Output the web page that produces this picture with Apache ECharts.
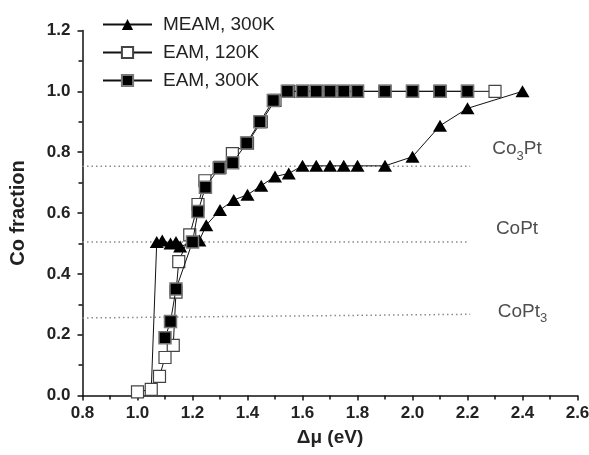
<!DOCTYPE html>
<html>
<head>
<meta charset="utf-8">
<script src="https://cdn.jsdelivr.net/npm/echarts@6/dist/echarts.min.js"></script>
<style>html,body{margin:0;padding:0;background:#fff;}#c{width:589px;height:455px;}</style>
</head>
<body>
<div id="c"></div>
<script>
// Data
const meam300 = [[1.0,0.012],[1.05,0.02],[1.07,0.505],[1.09,0.51],[1.12,0.5],[1.14,0.505],[1.155,0.49],[1.225,0.51],[1.25,0.56],[1.3,0.61],[1.35,0.643],[1.4,0.66],[1.45,0.69],[1.5,0.72],[1.55,0.73],[1.6,0.755],[1.65,0.755],[1.7,0.755],[1.75,0.755],[1.8,0.755],[1.9,0.755],[2.0,0.785],[2.1,0.887],[2.2,0.944],[2.4,1.0]];
const eam120 = [[1.0,0.012],[1.05,0.02],[1.08,0.063],[1.1,0.125],[1.13,0.165],[1.14,0.34],[1.15,0.44],[1.19,0.528],[1.22,0.628],[1.245,0.706],[1.3,0.75],[1.345,0.795],[1.4,0.83],[1.45,0.9],[1.5,0.97],[1.55,1.0],[1.6,1.0],[1.65,1.0],[1.7,1.0],[1.75,1.0],[1.8,1.0],[1.9,1.0],[2.0,1.0],[2.1,1.0],[2.2,1.0],[2.3,1.0]];
const eam300 = [[1.1,0.19],[1.12,0.243],[1.14,0.35],[1.2,0.505],[1.22,0.605],[1.247,0.685],[1.297,0.748],[1.346,0.765],[1.397,0.83],[1.445,0.9],[1.494,0.97],[1.545,1.0],[1.6,1.0],[1.65,1.0],[1.7,1.0],[1.75,1.0],[1.8,1.0],[1.9,1.0],[2.0,1.0],[2.1,1.0],[2.2,1.0]];
const refCo3Pt = [[0.8,0.754],[2.21,0.754]];
const refCoPt = [[0.8,0.505],[2.2,0.505]];
const refCoPt3 = [[0.8,0.255],[2.21,0.267]];
const phaseLabels = [[2.38,0.81,'{a|Co}{s|3}{a|Pt}'],[2.38,0.548,'{a|CoPt}'],[2.4,0.275,'{a|CoPt}{s|3}']];
const seriesNames = ['MEAM, 300K','EAM, 120K','EAM, 300K'];

const chart = echarts.init(document.getElementById('c'), null, {renderer:'canvas'});
const font = '"Liberation Sans", Arial, sans-serif';
const refLine = (d) => ({type:'line', data:d, symbol:'none', silent:true, z:1,
  lineStyle:{color:'#8a8a8a', width:1.5, type:[1.5,3]}});
chart.setOption({
  animation:false,
  backgroundColor:'#fff',
  grid:{left:82.5, right:11.5, top:30.5, bottom:59.5, outerBoundsMode:'none', containLabel:false},
  legend:{
    data:seriesNames, orient:'vertical', left:97, top:10, itemWidth:49, itemHeight:14, itemGap:9,
    textStyle:{fontFamily:font, fontSize:19, color:'#222', padding:[0,0,0,6]}
  },
  xAxis:{
    type:'value', min:0.8, max:2.6, interval:0.2,
    name:'Δμ (eV)', nameLocation:'middle', nameGap:33,
    nameTextStyle:{fontFamily:font, fontSize:19, fontWeight:'bold', color:'#222'},
    axisLine:{onZero:false, lineStyle:{color:'#111', width:1.5}},
    axisTick:{length:5, inside:false, lineStyle:{color:'#111', width:1.5}},
    minorTick:{show:true, splitNumber:2, length:4, lineStyle:{color:'#111', width:1.5}},
    splitLine:{show:false},
    axisLabel:{fontFamily:font, fontSize:17, fontWeight:'bold', color:'#222', margin:9, formatter:v=>v.toFixed(1)}
  },
  yAxis:{
    type:'value', min:0, max:1.2, interval:0.2,
    name:'Co fraction', nameLocation:'middle', nameGap:54,
    nameTextStyle:{fontFamily:font, fontSize:20, fontWeight:'bold', color:'#222'},
    axisLine:{show:true, onZero:false, lineStyle:{color:'#111', width:1.5}},
    axisTick:{show:true, length:5, lineStyle:{color:'#111', width:1.5}},
    minorTick:{show:true, splitNumber:2, length:4, lineStyle:{color:'#111', width:1.5}},
    splitLine:{show:false},
    axisLabel:{fontFamily:font, fontSize:17, fontWeight:'bold', color:'#222', margin:12, formatter:v=>v.toFixed(1)}
  },
  series:[
    refLine(refCo3Pt), refLine(refCoPt), refLine(refCoPt3),
    {name:seriesNames[0], type:'line', symbol:'triangle', symbolSize:[14,12], z:3,
      data:meam300.map((p,i)=> i<2 ? {value:p, symbolSize:[7,6]} : p),
      lineStyle:{color:'#111', width:1}, itemStyle:{color:'#000', borderColor:'#000', borderWidth:0}},
    {name:seriesNames[1], type:'line', data:eam120, symbol:'rect', symbolSize:12, z:4,
      lineStyle:{color:'#111', width:1}, itemStyle:{color:'#fff', borderColor:'#444', borderWidth:1.2}},
    {name:seriesNames[2], type:'line', data:eam300, symbol:'rect', symbolSize:12, z:5,
      lineStyle:{color:'#111', width:1}, itemStyle:{color:'#000', borderColor:'#777', borderWidth:1.5}},
    {type:'scatter', silent:true, symbolSize:0, z:6,
      data:phaseLabels.map(p=>({value:[p[0],p[1]], label:{formatter:p[2]}})),
      label:{show:true, position:'inside', color:'#222',
        rich:{a:{fontFamily:font, fontSize:19, color:'#222', verticalAlign:'bottom'},
              s:{fontFamily:font, fontSize:13, color:'#222', verticalAlign:'bottom', padding:[0,0,-4,0]}}}}
  ]
});
</script>
</body>
</html>
